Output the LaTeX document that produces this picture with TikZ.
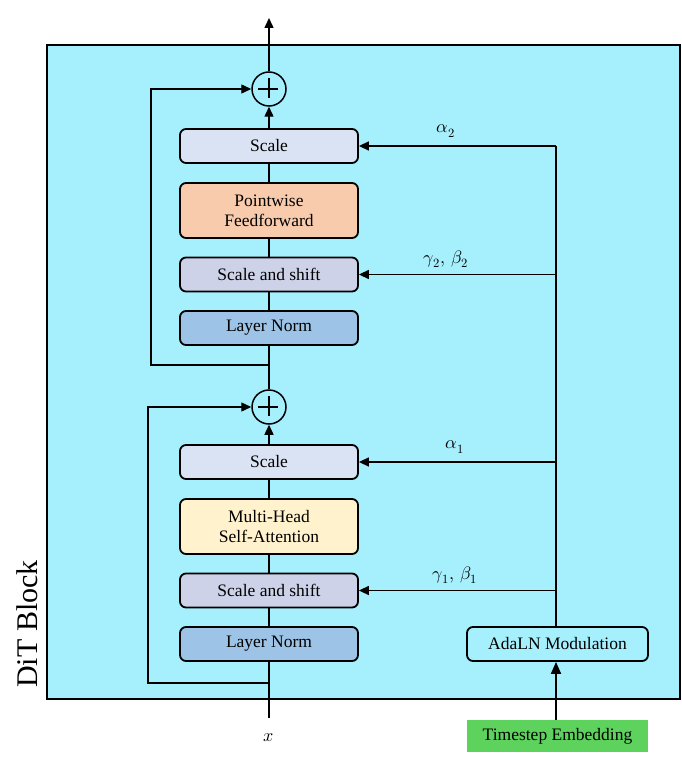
\documentclass[tikz,border=0pt]{standalone}
\usepackage{fontspec}
\usepackage{unicode-math}
\setmainfont{Liberation Serif}
\setmathfont{Latin Modern Math}
\usetikzlibrary{arrows.meta}
\definecolor{bgcyan}{HTML}{A6EFFC}
\definecolor{scalec}{HTML}{DAE3F3}
\definecolor{ffc}{HTML}{F8CBAD}
\definecolor{ssc}{HTML}{CDD2E8}
\definecolor{lnc}{HTML}{9DC3E6}
\definecolor{mhc}{HTML}{FFF2CC}
\definecolor{tsc}{HTML}{5DD35D}
\begin{document}
\begin{tikzpicture}[x=1pt,y=-1pt,
  blk/.style={draw=black,line width=1.8pt,rounded corners=6pt,minimum width=178pt,minimum height=34pt,inner sep=0pt,align=center,font=\fontsize{17.5}{21}\selectfont},
  tall/.style={minimum height=55pt},
  plusc/.style={draw=black,line width=1.5pt,circle,minimum size=34pt,inner sep=0pt},
  ln/.style={line width=1.4pt},
  arr/.style={line width=1.4pt,-{Triangle[length=10pt,width=9pt]}},
  lbl/.style={font=\fontsize{18}{21}\selectfont}]
\useasboundingbox (0,0) rectangle (681,759);
\fill[bgcyan] (47,45) rectangle (680,699);
\draw[line width=1.6pt] (47,45) rectangle (680,699);
\node[rotate=90,font=\fontsize{30}{34}\selectfont] (dit) at (27,624) {DiT Block};
% boxes
\node[blk,fill=scalec] (sc2) at (269,146) {Scale};
\node[blk,tall,fill=ffc] (ff) at (269,210.5) {Pointwise\\[-1pt]Feedforward};
\node[blk,fill=ssc] (ss2) at (269,274.5) {Scale and shift};
\node[blk,fill=lnc] (ln2) at (269,328) {Layer Norm};
\node[blk,fill=scalec] (sc1) at (269,462) {Scale};
\node[blk,tall,fill=mhc] (mh) at (269,526.5) {Multi-Head\\[-1pt]Self-Attention};
\node[blk,fill=ssc] (ss1) at (269,590.5) {Scale and shift};
\node[blk,fill=lnc] (ln1) at (269,644) {Layer Norm};
\node[plusc] (p2) at (269,89) {};
\node[plusc] (p1) at (269,407) {};
\draw[line width=1.5pt] (p2.north) ++(0,7) -- ++(0,20) (p2.west) ++(7,0) -- ++(20,0);
\draw[line width=1.5pt] (p1.north) ++(0,7) -- ++(0,20) (p1.west) ++(7,0) -- ++(20,0);
\node[blk,fill=bgcyan,minimum width=181pt] (ada) at (557.5,644) {AdaLN Modulation};
\node[fill=tsc,minimum width=181pt,minimum height=32pt,inner sep=0pt,font=\fontsize{17.5}{21}\selectfont] (ts) at (557.5,736) {Timestep Embedding};
\node[lbl] (x) at (269,738) {$x$};
\coordinate (xin) at (269,718);
\coordinate (out) at (269,18);
% main path
\draw[ln] (xin) -- (ln1.south);
\draw[ln] (ln1.north) -- (ss1.south);
\draw[ln] (ss1.north) -- (mh.south);
\draw[ln] (mh.north) -- (sc1.south);
\draw[arr] (sc1.north) -- (p1.south);
\draw[ln] (p1.north) -- (ln2.south);
\draw[ln] (ln2.north) -- (ss2.south);
\draw[ln] (ss2.north) -- (ff.south);
\draw[ln] (ff.north) -- (sc2.south);
\draw[arr] (sc2.north) -- (p2.south);
\draw[arr] (p2.north) -- (out);
% residuals
\coordinate (r1) at (269,683);
\coordinate (r2) at (269,365);
\draw[arr] (r1) -- (148,683) -- (148,407) -- (p1.west);
\draw[arr] (r2) -- (151,365) -- (151,89) -- (p2.west);
% modulation
\coordinate (mtop) at (556,146);
\draw[ln] (ada.north -| mtop) -- (mtop);
\draw[arr] (mtop) -- (sc2.east);
\draw[arr] (556,274.5) -- (ss2.east);
\draw[arr] (556,462) -- (sc1.east);
\draw[arr] (556,590.5) -- (ss1.east);
\draw[line width=1.8pt,-{Triangle[length=12pt,width=10pt]}] (ts.north -| mtop) -- (ada.south -| mtop);
\node[lbl] (a2) at (446,131) {$\alpha_2$};
\node[lbl] (gb2) at (446,259) {$\gamma_2,\,\beta_2$};
\node[lbl] (a1) at (455,447) {$\alpha_1$};
\node[lbl] (gb1) at (455,575) {$\gamma_1,\,\beta_1$};
\end{tikzpicture}
\end{document}
